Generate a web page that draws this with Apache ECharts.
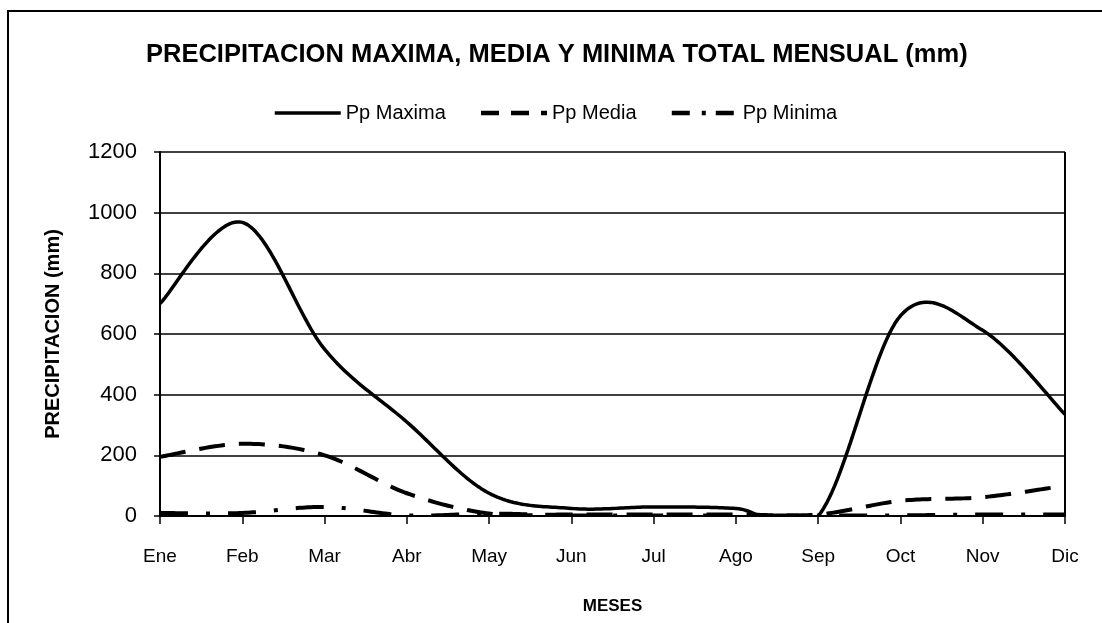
<!DOCTYPE html>
<html><head><meta charset="utf-8">
<script src="https://cdn.jsdelivr.net/npm/echarts@6/dist/echarts.min.js"></script>
<style>html,body{margin:0;padding:0;background:#fff}#c{width:1102px;height:623px}</style>
</head><body><div id="c"></div>
<script>
const months = ['Ene','Feb','Mar','Abr','May','Jun','Jul','Ago','Sep','Oct','Nov','Dic'];
const ppMaxima = [700, 968, 550, 310, 75, 25, 30, 25, 0, 660, 612, 335];
const ppMedia  = [195, 238, 200, 75, 8, 5, 5, 5, 5, 50, 62, 100];
const ppMinima = [10, 10, 30, 2, 8, 2, 2, 2, 2, 2, 5, 5];
const yTicks = [0, 200, 400, 600, 800, 1000, 1200];

const FONT = '"Liberation Sans", Arial, sans-serif';

// Smoothed line (Excel-like Catmull-Rom) drawn via the axes' coordinate system
function smoothRenderer(values, width, dash) {
  return function (params, api) {
    if (params.dataIndex !== 0) return null;
    const pts = values.map((v, i) => api.coord([i, v]));
    const out = [];
    const n = pts.length;
    for (let i = 0; i < n - 1; i++) {
      const p0 = pts[Math.max(i - 1, 0)], p1 = pts[i], p2 = pts[i + 1], p3 = pts[Math.min(i + 2, n - 1)];
      const c1 = [p1[0] + (p2[0] - p0[0]) / 6, p1[1] + (p2[1] - p0[1]) / 6];
      const c2 = [p2[0] - (p3[0] - p1[0]) / 6, p2[1] - (p3[1] - p1[1]) / 6];
      const steps = 30;
      for (let s = (i === 0 ? 0 : 1); s <= steps; s++) {
        const t = s / steps, u = 1 - t;
        out.push([
          u*u*u*p1[0] + 3*u*u*t*c1[0] + 3*u*t*t*c2[0] + t*t*t*p2[0],
          u*u*u*p1[1] + 3*u*u*t*c1[1] + 3*u*t*t*c2[1] + t*t*t*p2[1]
        ]);
      }
    }
    return {
      type: 'polyline',
      shape: {points: out},
      style: {stroke: '#000', lineWidth: width, lineDash: dash, fill: 'none', lineJoin: 'round'}
    };
  };
}

const chart = echarts.init(document.getElementById('c'));
chart.setOption({
  animation: false,
  backgroundColor: '#fff',
  textStyle: {fontFamily: FONT, color: '#000'},
  title: {
    text: 'PRECIPITACION MAXIMA, MEDIA Y MINIMA TOTAL MENSUAL (mm)',
    left: 141, top: 37,
    textStyle: {fontFamily: FONT, fontSize: 25.5, fontWeight: 'bold', color: '#000'}
  },
  legend: {
    top: 98, left: 268,
    itemWidth: 66, itemHeight: 20, itemGap: 33,
    textStyle: {fontFamily: FONT, fontSize: 20, color: '#000'},
    itemStyle: {opacity: 0},
    data: [
      {name: 'Pp Maxima', lineStyle: {width: 3.5, type: 'solid'}},
      {name: 'Pp Media', lineStyle: {width: 4.5, type: [18, 12]}},
      {name: 'Pp Minima', lineStyle: {width: 4.5, type: [18, 12, 4, 10]}}
    ]
  },
  grid: {left: 160, right: 37, top: 152, bottom: 107, outerBoundsMode: 'none', containLabel: false},
  xAxis: {
    type: 'category', data: months, boundaryGap: false,
    name: 'MESES', nameLocation: 'middle', nameGap: 82,
    nameTextStyle: {fontFamily: FONT, fontSize: 17, fontWeight: 'bold', color: '#000'},
    axisLine: {lineStyle: {color: '#000', width: 2}},
    axisTick: {show: true, alignWithLabel: true, length: 8, lineStyle: {color: '#000', width: 1.5}},
    axisLabel: {fontFamily: FONT, fontSize: 19, color: '#000', margin: 31},
    splitLine: {show: false}
  },
  yAxis: {
    type: 'value', min: yTicks[0], max: yTicks[yTicks.length - 1], interval: 200,
    name: 'PRECIPITACION (mm)', nameLocation: 'middle', nameGap: 97, nameRotate: 90,
    nameTextStyle: {fontFamily: FONT, fontSize: 20, fontWeight: 'bold', color: '#000'},
    axisLine: {show: true, lineStyle: {color: '#000', width: 2}},
    axisTick: {show: true, length: 6, lineStyle: {color: '#000', width: 1.5}},
    axisLabel: {fontFamily: FONT, fontSize: 22, color: '#000', margin: 23,
      formatter: v => String(v)},
    splitLine: {show: true, lineStyle: {color: '#000', width: 1.5}}
  },
  graphic: [
    {type: 'rect', shape: {x: 8, y: 11, width: 1110, height: 640}, style: {fill: 'none', stroke: '#000', lineWidth: 2}},
    {type: 'line', shape: {x1: 1065, y1: 152, x2: 1065, y2: 516}, style: {stroke: '#000', lineWidth: 2}}
  ],
  series: [
    // legend carriers (line styles for the legend samples)
    {name: 'Pp Maxima', type: 'line', data: [], symbol: 'none', lineStyle: {color: '#000', width: 3.5}, itemStyle: {color: '#000'}},
    {name: 'Pp Media', type: 'line', data: [], symbol: 'none', lineStyle: {color: '#000', width: 4, type: [26, 14]}, itemStyle: {color: '#000'}},
    {name: 'Pp Minima', type: 'line', data: [], symbol: 'none', lineStyle: {color: '#000', width: 4, type: [28, 18, 4, 18]}, itemStyle: {color: '#000'}},
    // actual smoothed curves
    {name: 'Pp Maxima', type: 'custom', clip: true, z: 3,
     data: ppMaxima.map((v, i) => [i, v]), encode: {x: 0, y: 1},
     renderItem: smoothRenderer(ppMaxima, 3.5, null)},
    {name: 'Pp Media', type: 'custom', clip: true, z: 3,
     data: ppMedia.map((v, i) => [i, v]), encode: {x: 0, y: 1},
     renderItem: smoothRenderer(ppMedia, 4, [26, 14])},
    {name: 'Pp Minima', type: 'custom', clip: true, z: 3,
     data: ppMinima.map((v, i) => [i, v]), encode: {x: 0, y: 1},
     renderItem: smoothRenderer(ppMinima, 4, [28, 18, 4, 18])}
  ]
});
</script></body></html>
